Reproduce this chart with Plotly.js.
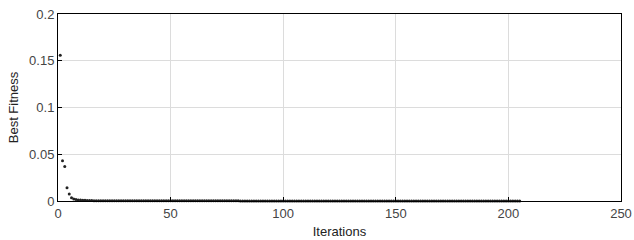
<!DOCTYPE html>
<html>
<head>
<meta charset="utf-8">
<script src="https://cdn.plot.ly/plotly-3.0.1.min.js"></script>
<style>html,body{margin:0;padding:0;background:#fff;}#chart{width:634px;height:240px;}</style>
</head>
<body>
<div id="chart"></div>
<script>
const bestFitness = [
  0.156, 0.043, 0.037, 0.0142, 0.0075, 0.0035, 0.0022, 0.0016, 0.0012, 0.0010,
  0.0008, 0.0007, 0.0006, 0.0005, 0.0005, 0.0004, 0.0004, 0.0004, 0.0003, 0.0003,
  0.0003, 0.0003, 0.0003, 0.0003, 0.0003, 0.0003, 0.0003, 0.0003, 0.0003, 0.0003,
  0.0003, 0.0003, 0.0003, 0.0002, 0.0002, 0.0002, 0.0002, 0.0002, 0.0002, 0.0002,
  0.0002, 0.0002, 0.0002, 0.0002, 0.0002, 0.0002, 0.0002, 0.0002, 0.0002, 0.0002,
  0.0002, 0.0002, 0.0002, 0.0002, 0.0002, 0.0002, 0.0002, 0.0002, 0.0002, 0.0002,
  0.0002, 0.0002, 0.0002, 0.0002, 0.0002, 0.0002, 0.0002, 0.0002, 0.0002, 0.0002,
  0.0002, 0.0002, 0.0002, 0.0002, 0.0002, 0.0002, 0.0002, 0.0002, 0.0002, 0.0002,
  0.0001, 0.0001, 0.0001, 0.0001, 0.0001, 0.0001, 0.0001, 0.0001, 0.0001, 0.0001,
  0.0001, 0.0001, 0.0001, 0.0001, 0.0001, 0.0001, 0.0001, 0.0001, 0.0001, 0.0001,
  0.0001, 0.0001, 0.0001, 0.0001, 0.0001, 0.0001, 0.0001, 0.0001, 0.0001, 0.0001,
  0.0001, 0.0001, 0.0001, 0.0001, 0.0001, 0.0001, 0.0001, 0.0001, 0.0001, 0.0001,
  0.0001, 0.0001, 0.0001, 0.0001, 0.0001, 0.0001, 0.0001, 0.0001, 0.0001, 0.0001,
  0.0001, 0.0001, 0.0001, 0.0001, 0.0001, 0.0001, 0.0001, 0.0001, 0.0001, 0.0001,
  0.0001, 0.0001, 0.0001, 0.0001, 0.0001, 0.0001, 0.0001, 0.0001, 0.0001, 0.0001,
  0.0001, 0.0001, 0.0001, 0.0001, 0.0001, 0.0001, 0.0001, 0.0001, 0.0001, 0.0001,
  0.0001, 0.0001, 0.0001, 0.0001, 0.0001, 0.0001, 0.0001, 0.0001, 0.0001, 0.0001,
  0.0001, 0.0001, 0.0001, 0.0001, 0.0001, 0.0001, 0.0001, 0.0001, 0.0001, 0.0001,
  0.0001, 0.0001, 0.0001, 0.0001, 0.0001, 0.0001, 0.0001, 0.0001, 0.0001, 0.0001,
  0.0001, 0.0001, 0.0001, 0.0001, 0.0001, 0.0001, 0.0001, 0.0001, 0.0001, 0.0001,
  0.0001, 0.0001, 0.0001, 0.0001, 0.0001
];
const iterations = bestFitness.map((_, i) => i + 1);
const xTickVals = [0, 50, 100, 150, 200, 250];
const yTickVals = [0, 0.05, 0.1, 0.15, 0.2];
const yTickText = ['0', '0.05', '0.1', '0.15', '0.2'];

const fam = 'Liberation Sans, Arial, sans-serif';

Plotly.newPlot('chart', [{
  x: iterations,
  y: bestFitness,
  type: 'scatter',
  mode: 'markers',
  marker: {color: '#222', size: 3},
  cliponaxis: false,
  hoverinfo: 'x+y'
}], {
  width: 634, height: 240,
  margin: {l: 58, r: 13, t: 14, b: 39},
  paper_bgcolor: '#fff', plot_bgcolor: '#fff',
  font: {family: fam, size: 13, color: '#444'},
  showlegend: false,
  xaxis: {
    range: [0, 250], tickvals: xTickVals, ticktext: xTickVals.map(String),
    showgrid: true, gridcolor: '#dcdcdc', gridwidth: 1,
    zeroline: false, showline: true, linecolor: '#000', linewidth: 1, mirror: true,
    ticks: 'inside', ticklen: 4, tickcolor: '#000',
    tickfont: {family: fam, size: 13, color: '#444'},
    title: {text: 'Iterations', font: {family: fam, size: 13, color: '#222'}, standoff: 7}
  },
  yaxis: {
    range: [0, 0.2], tickvals: yTickVals, ticktext: yTickText,
    showgrid: true, gridcolor: '#dcdcdc', gridwidth: 1,
    zeroline: false, showline: true, linecolor: '#000', linewidth: 1, mirror: true,
    ticks: 'inside', ticklen: 4, tickcolor: '#000',
    tickfont: {family: fam, size: 13, color: '#444'},
    title: {text: 'Best Fitness', font: {family: fam, size: 13, color: '#222'}, standoff: 7}
  }
}, {displayModeBar: false, staticPlot: true});
</script>
</body>
</html>
